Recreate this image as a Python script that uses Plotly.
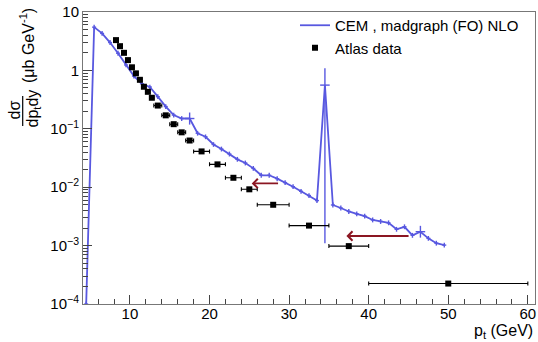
import math
import plotly.graph_objects as go

# ---------------- data ----------------
# CEM, madgraph (FO) NLO prediction (bin centres, GeV) and cross-section (ub/GeV)
cem_pt = [4.5, 5.5, 6.5, 7.5, 8.5, 9.5, 10.5, 11.5, 12.5, 13.5, 14.5, 15.5, 16.5, 17.5,
          18.5, 19.5, 20.5, 21.5, 22.5, 23.5, 24.5, 25.5, 26.5, 27.5, 28.5, 29.5, 30.5,
          31.5, 32.5, 33.5, 34.5, 35.5, 36.5, 37.5, 38.5, 39.5, 40.5, 41.5, 42.5, 43.5,
          44.5, 45.5, 46.5, 47.5, 48.5, 49.5]
cem_xsec = [1.0e-4, 5.5, 4.3, 3.0, 1.97, 1.24, 0.80, 0.59, 0.52, 0.355, 0.24, 0.172, 0.15, 0.15,
            0.084, 0.073, 0.054, 0.045, 0.037, 0.030, 0.026, 0.021, 0.016, 0.016, 0.014, 0.012,
            0.0102, 0.0085, 0.0072, 0.0059, 0.56, 0.00496, 0.0044, 0.00384, 0.0035, 0.0032,
            0.00275, 0.00259, 0.00245, 0.0019, 0.0021, 0.0015, 0.00173, 0.00133, 0.0011, 0.00102]
cem_err_up = [1e-5, 0.55, 0.43, 0.30, 0.20, 0.12, 0.08, 0.06, 0.05, 0.035, 0.024, 0.017, 0.015, 0.04,
              0.008, 0.007, 0.005, 0.0045, 0.0037, 0.003, 0.0026, 0.0021, 0.0016, 0.0016, 0.0014,
              0.0012, 0.001, 0.00085, 0.0007, 0.0006, 0.53, 0.0005, 0.00044, 0.00038, 0.00035,
              0.00032, 0.00028, 0.00026, 0.00025, 0.00019, 0.00021, 0.00015, 0.00045, 0.00013,
              0.00011, 0.0001]
cem_err_down = [1e-5, 0.5, 0.39, 0.27, 0.18, 0.11, 0.07, 0.055, 0.047, 0.032, 0.022, 0.016, 0.014, 0.032,
                0.0076, 0.0066, 0.0049, 0.0041, 0.0034, 0.0027, 0.0024, 0.0019, 0.0015, 0.0015,
                0.0013, 0.0011, 0.0009, 0.00077, 0.00065, 0.00054, 0.5589, 0.00045, 0.0004,
                0.00035, 0.00032, 0.00029, 0.00025, 0.00024, 0.00022, 0.00017, 0.00019, 0.00014,
                0.00036, 0.00012, 0.0001, 0.00009]
cem_halfbin = [0.25] * 13 + [0.6] + [0.25] * 16 + [0.6] + [0.25] * 11 + [0.6] + [0.25] * 3

# ATLAS data
atlas_pt = [8.25, 8.75, 9.25, 9.75, 10.25, 10.75, 11.25, 11.75, 12.25, 12.75, 13.5, 14.5,
            15.5, 16.5, 17.5, 19, 21, 23, 25, 28, 32.5, 37.5, 50]
atlas_halfbin = [0.25] * 10 + [0.5] * 5 + [1, 1, 1, 1, 2, 2.5, 2.5, 10]
atlas_xsec = [3.3, 2.6, 2.0, 1.5, 1.13, 0.89, 0.69, 0.525, 0.43, 0.34, 0.25, 0.17, 0.12,
              0.087, 0.063, 0.041, 0.0246, 0.0145, 0.0092, 0.005, 0.0022, 0.00098, 0.000224]

# arrows (tail -> head)
arrow_tail_pt = [28.8, 45.2]
arrow_head_pt = [25.3, 37.2]
arrow_xsec = [0.0116, 0.00146]

y_tickvals = [1e-4, 1e-3, 1e-2, 1e-1, 1, 10]
y_ticktext = ["10<sup>\u22124</sup>", "10<sup>\u22123</sup>", "10<sup>\u22122</sup>",
              "10<sup>\u22121</sup>", "1", "10"]
x_tickvals = [10, 20, 30, 40, 50, 60]

# ---------------- figure ----------------
BLUE = "#5858e0"
FONT = "Liberation Sans, Arial, sans-serif"

fig = go.Figure()
fig.add_trace(go.Scatter(
    x=cem_pt, y=cem_xsec, mode="lines", name="CEM , madgraph (FO) NLO",
    line=dict(color=BLUE, width=1.8),
    error_y=dict(type="data", symmetric=False, array=cem_err_up, arrayminus=cem_err_down,
                 color=BLUE, thickness=1.4, width=0),
    error_x=dict(type="data", array=cem_halfbin, color=BLUE, thickness=1.4, width=0),
))
fig.add_trace(go.Scatter(
    x=atlas_pt, y=atlas_xsec, mode="markers", name="Atlas data",
    marker=dict(symbol="square", size=6, color="black"),
    error_x=dict(type="data", array=atlas_halfbin, color="black", thickness=1.1, width=2),
))

for xt, xh, yv in zip(arrow_tail_pt, arrow_head_pt, arrow_xsec):
    fig.add_annotation(x=xh, y=math.log10(yv), ax=xt, ay=math.log10(yv),
                       xref="x", yref="y", axref="x", ayref="y", text="",
                       showarrow=True, arrowhead=4, arrowsize=1.0, arrowwidth=1.8,
                       arrowcolor="#8b1622")

L, R, T, B = 83, 3, 12, 38
W, H = 538, 342
pw, ph = W - L - R, H - T - B


def px(xp):
    return (xp - L) / pw


def py(yp):
    return (H - B - yp) / ph


TXT = dict(xref="paper", yref="paper", showarrow=False, xanchor="center", yanchor="middle",
           font=dict(family=FONT, size=16, color="black"))

# y-axis title: fraction dσ / dp_t dy  (μb GeV^-1)
fig.add_annotation(x=px(13.5), y=py(110), text="d\u03c3", textangle=-90, **TXT)
fig.add_annotation(x=px(33), y=py(108.5), text="dp<sub>t</sub>dy", textangle=-90, **TXT)
fig.add_shape(type="line", xref="paper", yref="paper", x0=px(22.7), x1=px(22.7),
              y0=py(96), y1=py(126), line=dict(color="black", width=1.2))
fig.add_annotation(x=px(27), y=py(46), text="(\u03bcb GeV<sup>-1</sup>)", textangle=-90, **TXT)
# x-axis title
fig.add_annotation(x=1.0, y=py(331), xref="paper", yref="paper", xanchor="right",
                   yanchor="middle", text="p<sub>t</sub> (GeV)", showarrow=False,
                   font=dict(family=FONT, size=16, color="black"))

fig.update_layout(
    width=W, height=H,
    margin=dict(l=L, r=R, t=T, b=B),
    paper_bgcolor="white", plot_bgcolor="white",
    font=dict(family=FONT, size=15, color="black"),
    showlegend=True,
    legend=dict(x=px(295), y=py(9), xanchor="left", yanchor="top",
                bgcolor="rgba(0,0,0,0)", font=dict(family=FONT, size=15),
                tracegroupgap=0),
)
fig.update_xaxes(
    range=[4.1, 60.9], tickvals=x_tickvals, ticks="inside", ticklen=9, tickcolor="#444",
    showline=True, linecolor="#777", linewidth=1, mirror=True, showgrid=False, zeroline=False,
    tickfont=dict(family=FONT, size=15), ticklabelstandoff=-4,
    minor=dict(dtick=2, ticks="inside", ticklen=5, tickcolor="#444", showgrid=False),
)
fig.update_yaxes(
    type="log", range=[-4, 1], tickmode="array", tickvals=y_tickvals, ticktext=y_ticktext,
    ticks="inside", ticklen=9, tickcolor="#444",
    showline=True, linecolor="#777", linewidth=1, mirror=True, showgrid=False, zeroline=False,
    tickfont=dict(family=FONT, size=15),
    minor=dict(tickmode="array",
               tickvals=[m * 10 ** e for e in range(-4, 1) for m in range(2, 10)],
               ticks="inside", ticklen=5, tickcolor="#444", showgrid=False),
)

fig.write_html("out.html", config={"displayModeBar": False},
               post_script="document.body.style.margin='0px';document.body.style.padding='0px';")
